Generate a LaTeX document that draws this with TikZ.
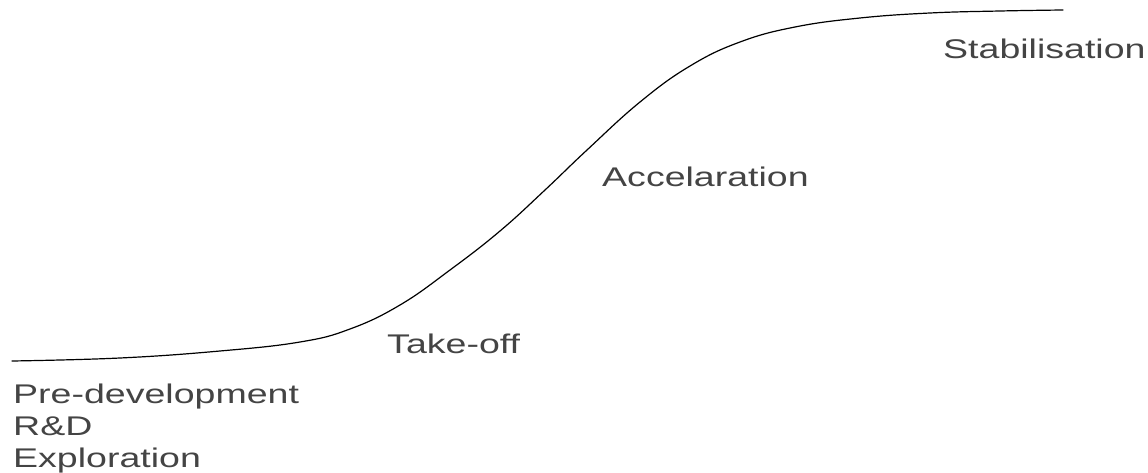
\documentclass[tikz,border=0pt]{standalone}
\usepackage{fontspec}
\setmainfont{Liberation Sans}
\definecolor{labelgrey}{HTML}{444444}
\newcommand{\wide}[1]{\scalebox{1.39}[1]{#1}}
\begin{document}
\begin{tikzpicture}[x=1pt,y=-1pt,
  phase/.style={anchor=base west,inner sep=0pt,text=labelgrey,
    font=\fontsize{27}{32}\selectfont},
  curve/.style={draw=black,line width=1.2pt,line cap=round}]
\useasboundingbox (0,0) rectangle (1148,473);
\draw[curve] plot[smooth,tension=0.7] coordinates {
  (12,361) (120,358) (220,351) (300,342) (350,329) (400,305) (450,270)
  (500,231) (545,190) (587,150) (640,102) (690,66) (740,42) (795,27)
  (860,18) (930,13) (1000,11) (1063,10)};
\node[phase] (stab) at (943,59) {\wide{Stabilisation}};
\node[phase] (acc) at (602,187) {\wide{Accelaration}};
\node[phase] (take) at (387,353) {\wide{Take-off}};
\node[phase] (pre) at (13,403) {\wide{\begin{tabular}[t]{@{}l@{}}Pre-development\\R\&D\\Exploration\end{tabular}}};
\end{tikzpicture}
\end{document}
